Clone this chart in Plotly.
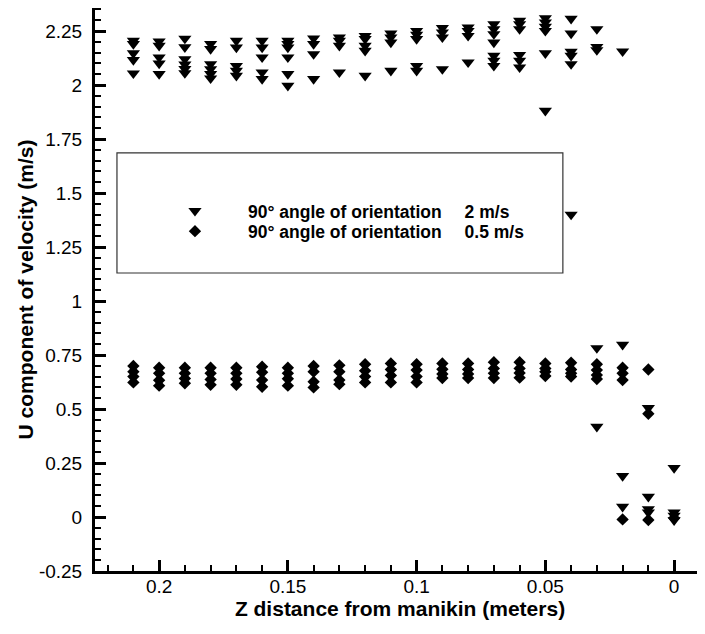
import plotly.graph_objects as go

# ---------------- data ----------------
# 90 deg angle of orientation, 2 m/s  (downward triangles)
z_2ms = ([0.21] * 5 + [0.20] * 5 + [0.19] * 6 + [0.18] * 6 + [0.17] * 5 +
         [0.16] * 5 + [0.15] * 6 + [0.14] * 4 + [0.13] * 4 + [0.12] * 5 +
         [0.11] * 4 + [0.10] * 5 + [0.09] * 4 + [0.08] * 4 + [0.07] * 7 +
         [0.06] * 6 + [0.05] * 6 + [0.04] * 6 + [0.03] * 5 + [0.02] * 4 +
         [0.01] * 4 + [0.00] * 4)
u_2ms = [2.205, 2.190, 2.147, 2.116, 2.054,
         2.202, 2.182, 2.128, 2.100, 2.051,
         2.215, 2.175, 2.120, 2.095, 2.075, 2.055,
         2.190, 2.167, 2.097, 2.074, 2.051, 2.031,
         2.205, 2.174, 2.089, 2.066, 2.043,
         2.205, 2.174, 2.128, 2.059, 2.028,
         2.205, 2.190, 2.174, 2.128, 2.051, 1.997,
         2.216, 2.190, 2.143, 2.028,
         2.221, 2.205, 2.182, 2.059,
         2.228, 2.213, 2.182, 2.159, 2.043,
         2.239, 2.221, 2.197, 2.066,
         2.251, 2.233, 2.213, 2.089, 2.066,
         2.264, 2.244, 2.221, 2.074,
         2.267, 2.251, 2.228, 2.105,
         2.282, 2.259, 2.236, 2.197, 2.136, 2.113, 2.089,
         2.298, 2.282, 2.259, 2.140, 2.113, 2.082,
         2.310, 2.290, 2.270, 2.251, 2.147, 1.881,
         2.307, 2.239, 2.154, 2.136, 2.097, 1.400,
         2.259, 2.177, 2.162, 0.782, 0.418,
         2.156, 0.798, 0.190, 0.048,
         0.505, 0.094, 0.037, 0.021,
         0.227, 0.021, 0.006, -0.015]

# 90 deg angle of orientation, 0.5 m/s  (diamonds)
z_05ms = ([0.21] * 4 + [0.20] * 4 + [0.19] * 4 + [0.18] * 4 + [0.17] * 4 +
          [0.16] * 4 + [0.15] * 4 + [0.14] * 4 + [0.13] * 4 + [0.12] * 4 +
          [0.11] * 4 + [0.10] * 4 + [0.09] * 4 + [0.08] * 4 + [0.07] * 4 +
          [0.06] * 4 + [0.05] * 4 + [0.04] * 4 + [0.03] * 4 + [0.02] * 4 +
          [0.01] * 3 + [0.00] * 1)
u_05ms = [0.699, 0.673, 0.650, 0.623,
          0.691, 0.665, 0.633, 0.608,
          0.691, 0.665, 0.641, 0.619,
          0.691, 0.665, 0.637, 0.612,
          0.691, 0.665, 0.639, 0.612,
          0.696, 0.670, 0.634, 0.603,
          0.691, 0.665, 0.640, 0.608,
          0.699, 0.673, 0.626, 0.600,
          0.702, 0.673, 0.634, 0.615,
          0.707, 0.677, 0.650, 0.623,
          0.711, 0.683, 0.655, 0.623,
          0.707, 0.680, 0.650, 0.623,
          0.711, 0.684, 0.662, 0.643,
          0.711, 0.683, 0.662, 0.643,
          0.717, 0.688, 0.665, 0.643,
          0.717, 0.688, 0.667, 0.645,
          0.711, 0.688, 0.672, 0.653,
          0.714, 0.683, 0.665, 0.650,
          0.707, 0.680, 0.657, 0.639,
          0.691, 0.665, 0.634, -0.011,
          0.683, 0.478, -0.014,
          -0.005]

x_tickvals = [0.2, 0.15, 0.1, 0.05, 0.0]
x_ticktext = ["0.2", "0.15", "0.1", "0.05", "0"]
y_tickvals = [-0.25, 0, 0.25, 0.5, 0.75, 1, 1.25, 1.5, 1.75, 2, 2.25]
y_ticktext = ["-0.25", "0", "0.25", "0.5", "0.75", "1", "1.25", "1.5", "1.75", "2", "2.25"]

name_2ms = "90\u00b0 angle of orientation    \u20092 m/s"
name_05ms = "90\u00b0 angle of orientation    \u20090.5 m/s"

FONT = "Liberation Sans, Arial, Helvetica, sans-serif"

fig = go.Figure()
fig.add_trace(go.Scatter(x=z_2ms, y=u_2ms, mode="markers", name=name_2ms,
                         legend="legend",
                         marker=dict(symbol="triangle-down", size=11.5, color="black",
                                     line=dict(width=0))))
fig.add_trace(go.Scatter(x=z_05ms, y=u_05ms, mode="markers", name=name_05ms,
                         legend="legend2",
                         marker=dict(symbol="diamond", size=9.5, color="black",
                                     line=dict(width=0))))

axis_common = dict(showline=True, linecolor="black", linewidth=3, mirror=False,
                   showgrid=False, zeroline=False, ticks="inside", ticklen=11,
                   tickwidth=2.5, tickcolor="black",
                   tickfont=dict(family=FONT, size=19, color="black"))

fig.update_xaxes(range=[0.2249, -0.0120], tickmode="array", tickvals=x_tickvals,
                 ticktext=x_ticktext, ticklabelstandoff=-4,
                 minor=dict(dtick=0.01, tick0=0, ticks="inside", ticklen=6,
                            tickwidth=1.5, tickcolor="black"),
                 title=dict(text="<b>Z distance from manikin (meters)</b>", standoff=6,
                            font=dict(family=FONT, size=21, color="black")),
                 **axis_common)
fig.update_yaxes(range=[-0.25, 2.3565], tickmode="array", tickvals=y_tickvals,
                 ticktext=y_ticktext, ticklabelstandoff=6,
                 minor=dict(dtick=0.05, tick0=0, ticks="inside", ticklen=6,
                            tickwidth=1.5, tickcolor="black"),
                 title=dict(text="<b>U component of velocity (m/s)</b>", standoff=0,
                            font=dict(family=FONT, size=21, color="black")),
                 **axis_common)

# legend frame
fig.add_shape(type="rect", xref="paper", yref="paper", x0=0.036, x1=0.767,
              y0=0.5293, y1=0.7425, line=dict(color="#333333", width=1.2),
              fillcolor="white", layer="below")

legend_common = dict(xanchor="left", yanchor="top", bgcolor="rgba(0,0,0,0)",
                     borderwidth=0, itemwidth=96,
                     font=dict(family=FONT, size=17.5, color="black", weight="bold"))

fig.update_layout(
    width=697, height=626,
    margin=dict(l=87, r=0, t=0, b=63, autoexpand=False),
    paper_bgcolor="white", plot_bgcolor="white",
    showlegend=True,
    legend=dict(x=0.077, y=0.6716, **legend_common),
    legend2=dict(x=0.077, y=0.6354, **legend_common),
    font=dict(family=FONT, color="black"),
)

fig.write_html("out.html")
